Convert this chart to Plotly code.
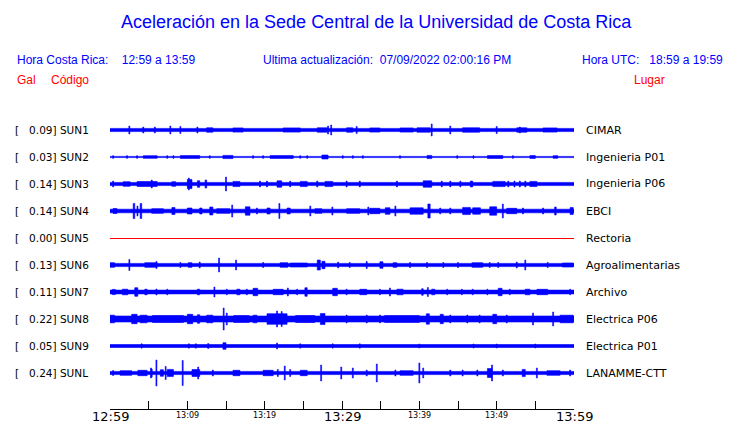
import plotly.graph_objects as go

# ---------------- data ----------------
TICK_MINUTES = list(range(0, 61, 5))
TICK_LABELS = ["12:59", "", "13:09", "", "13:19", "", "13:29", "", "13:39", "", "13:49", "", "13:59"]
MAJOR_LABELS = ["12:59", "13:29", "13:59"]

CODES = ["SUN1", "SUN2", "SUN3", "SUN4", "SUN5", "SUN6", "SUN7", "SUN8", "SUN9", "SUNL"]
GAL = [0.09, 0.03, 0.14, 0.14, 0.00, 0.13, 0.11, 0.22, 0.05, 0.24]
PLACES = ["CIMAR", "Ingenieria P01", "Ingenieria P06", "EBCI", "Rectoria",
          "Agroalimentarias", "Archivo", "Electrica P06", "Electrica P01", "LANAMME-CTT"]

# background envelope (half amplitude, relative units) of each record
BASE_AMP = [1.6, 0.6, 1.6, 1.8, 0.0, 1.6, 1.9, 3.0, 1.5, 1.6]

# bursts: (start minute, end minute, half amplitude) read from the records
BURSTS_SUN1 = [(2.5, 2.5, 4), (4.3, 4.3, 3), (5.8, 5.8, 3), (7.8, 7.8, 4), (9.1, 9.1, 3.5),
               (11.3, 11.3, 3), (12.5, 13.3, 2.2), (15.9, 17.2, 2.1), (22.4, 24.6, 2.1),
               (26.8, 28.1, 2.2), (28.2, 28.2, 4), (28.6, 28.6, 5), (30.6, 31.4, 2.2),
               (31.9, 31.9, 3.5), (33.6, 34.9, 2.1), (37.5, 39.2, 2.1), (39.7, 41.4, 2.2),
               (41.6, 41.6, 6), (44.0, 44.0, 4), (45.6, 47.8, 2.2), (50.0, 50.0, 3.5),
               (52.6, 53.9, 2.2), (53.0, 53.0, 3), (56.0, 57.8, 2.1)]
BURSTS_SUN2 = [(0.4, 0.4, 1.3), (2.2, 2.2, 1.3), (3.5, 3.5, 1.3), (4.3, 6.1, 1.3), (7.4, 7.4, 1.3),
               (8.2, 8.2, 1.3), (9.1, 11.6, 1.4), (12.9, 12.9, 1.3), (14.6, 15.9, 1.6),
               (18.5, 18.5, 1.3), (19.8, 19.8, 1.3), (20.7, 23.7, 1.4), (24.6, 24.6, 1.3),
               (25.5, 25.5, 1.3), (27.4, 28.2, 2.0), (30.1, 30.1, 1.3), (31.4, 31.4, 1.3),
               (32.7, 32.7, 1.3), (37.5, 37.5, 1.3), (41.0, 41.6, 1.6), (44.9, 44.9, 1.3),
               (47.0, 47.0, 1.3), (48.8, 50.8, 1.4), (52.1, 52.1, 1.3), (54.3, 55.0, 1.4),
               (57.3, 57.9, 1.3)]
BURSTS_SUN3 = [(0.4, 0.4, 3), (1.7, 2.6, 2.3), (3.5, 6.1, 2.5), (5.4, 5.4, 4), (8.0, 8.5, 2.3),
               (10.0, 10.6, 4.5), (10.2, 10.2, 6), (11.3, 11.6, 3.3), (12.3, 12.5, 4), (15.0, 15.0, 7),
               (15.9, 16.8, 2.6), (19.4, 19.4, 3), (20.3, 20.3, 3), (21.6, 22.2, 3.2), (23.3, 23.3, 3),
               (24.6, 25.5, 2.6), (26.8, 26.8, 3), (27.8, 28.8, 2.6), (30.6, 30.6, 3), (32.3, 32.3, 3),
               (37.1, 37.1, 3), (40.5, 41.6, 3.2), (42.9, 42.9, 3), (44.0, 44.0, 3), (45.3, 45.3, 3),
               (46.6, 46.9, 3), (49.5, 51.1, 2.6), (51.5, 51.5, 3), (52.3, 52.3, 3), (53.0, 53.0, 3),
               (53.7, 53.7, 3), (54.3, 55.2, 2.6)]
BURSTS_SUN4 = [(0.4, 0.9, 2.5), (3.0, 3.2, 7.5), (3.5, 3.6, 5), (3.9, 4.1, 7.5), (5.4, 6.9, 2.3),
               (8.0, 8.4, 3.5), (10.0, 10.6, 3), (11.6, 11.9, 3), (12.9, 13.3, 4), (13.8, 15.5, 2.3),
               (15.8, 15.8, 6), (17.5, 18.1, 4.2), (19.0, 19.0, 3), (20.3, 20.7, 3), (21.9, 21.9, 7.5),
               (22.9, 23.3, 3), (25.9, 25.9, 5), (26.5, 27.4, 2.3), (28.7, 28.8, 4), (30.6, 32.3, 2.3),
               (33.4, 33.4, 4), (33.6, 34.9, 2.7), (35.6, 36.2, 3.3), (36.9, 36.9, 5), (38.8, 40.5, 3.2),
               (41.1, 41.4, 7), (42.7, 42.7, 3), (44.0, 44.0, 3), (45.6, 46.6, 3.6), (46.9, 47.9, 3.2),
               (49.1, 50.0, 4.2), (50.8, 50.8, 7), (51.3, 52.6, 2.7), (53.4, 53.4, 3), (56.0, 56.0, 3),
               (57.5, 57.7, 4), (59.5, 59.9, 3.5)]
BURSTS_SUN5 = []
BURSTS_SUN6 = [(0.0, 0.6, 2.3), (2.5, 2.5, 5.5), (4.5, 6.1, 2.3), (6.0, 6.0, 3.5), (9.1, 9.1, 2.5),
               (10.1, 10.6, 2.3), (11.6, 11.6, 3), (14.1, 14.1, 7), (16.3, 16.3, 5), (19.8, 19.8, 2.5),
               (22.0, 23.0, 2.3), (23.3, 25.5, 2.0), (26.8, 27.2, 5.0), (27.4, 27.8, 3.7), (29.5, 29.5, 3),
               (31.0, 31.0, 2.5), (33.2, 33.2, 3.5), (34.9, 35.3, 3.3), (36.6, 37.1, 2.3),
               (38.8, 38.8, 2.5), (41.0, 41.0, 2.5), (43.1, 43.1, 2.5), (45.0, 45.0, 2.5),
               (46.8, 48.2, 2.3), (49.1, 49.1, 2.5), (50.2, 50.2, 2.5), (52.6, 52.6, 3),
               (53.7, 53.7, 5), (56.6, 56.6, 2.5), (58.5, 59.9, 2.0)]
BURSTS_SUN7 = [(0.3, 0.7, 2.6), (1.6, 2.3, 2.8), (3.2, 3.6, 4.3), (4.5, 4.8, 2.8), (6.0, 6.0, 3),
               (7.4, 7.4, 2.8), (11.3, 11.6, 2.8), (13.5, 13.5, 5), (15.1, 15.1, 2.8), (16.4, 16.8, 2.8),
               (17.7, 17.7, 2.8), (18.5, 19.1, 3.7), (21.1, 22.4, 2.7), (23.0, 23.0, 4), (24.2, 24.2, 2.8),
               (25.2, 25.5, 4.3), (28.8, 29.4, 3.7), (30.6, 30.6, 2.8), (32.3, 33.2, 2.7), (34.9, 34.9, 2.8),
               (36.2, 36.2, 4), (37.1, 37.9, 2.8), (40.3, 40.5, 3.3), (41.1, 41.1, 4.5), (41.6, 42.0, 2.8),
               (43.6, 43.6, 2.8), (45.5, 45.5, 2.8), (46.9, 46.9, 2.8), (48.8, 48.8, 2.8),
               (50.2, 50.7, 3.7), (51.7, 51.7, 2.8), (53.7, 54.3, 2.8), (55.2, 56.6, 2.7), (59.5, 59.5, 2.8)]
BURSTS_SUN8 = [(0.0, 0.6, 3.8), (2.8, 3.5, 4.7), (3.9, 4.8, 3.8), (5.5, 9.5, 3.5), (10.0, 10.7, 4.7),
               (11.3, 11.6, 4.3), (12.5, 13.3, 3.8), (14.7, 14.7, 11), (15.1, 15.1, 6), (16.0, 18.0, 3.4),
               (18.5, 19.0, 3.8), (20.3, 22.9, 5.3), (21.6, 21.6, 8), (22.2, 22.2, 7.5), (24.0, 26.5, 3.5),
               (27.2, 27.8, 5.5), (30.6, 30.6, 4), (33.2, 33.2, 4), (34.9, 34.9, 4), (35.5, 40.0, 3.4),
               (40.9, 41.3, 5.2), (42.7, 43.1, 4.7), (44.0, 44.0, 4), (46.2, 46.2, 4), (47.8, 47.8, 4),
               (49.5, 50.0, 4.7), (51.3, 51.3, 4), (54.7, 54.7, 6), (57.3, 57.3, 7), (58.2, 59.9, 3.8)]
BURSTS_SUN9 = [(4.1, 4.1, 2.2), (10.2, 10.2, 2.2), (11.1, 11.1, 2.2), (12.7, 12.7, 2.5),
               (14.6, 15.0, 3.3), (21.6, 21.6, 3), (24.6, 24.6, 2.2), (28.8, 28.8, 2.2),
               (32.3, 32.3, 2.2), (40.0, 40.0, 2.0), (47.0, 47.0, 2.0), (50.0, 50.0, 2.0),
               (55.0, 55.0, 2.0)]
BURSTS_SUNL = [(0.4, 0.4, 2.5), (1.3, 2.8, 2.3), (3.6, 4.8, 2.7), (5.3, 5.3, 5), (5.4, 5.4, 4),
               (6.0, 6.0, 13), (6.5, 6.9, 3.3), (7.2, 7.2, 6.5), (7.4, 8.2, 3.6), (9.4, 9.4, 12.5),
               (10.6, 11.6, 3.5), (11.4, 11.4, 6), (13.3, 13.3, 3), (15.9, 16.8, 2.7), (19.8, 21.1, 2.7),
               (21.7, 21.7, 3.5), (22.6, 22.6, 7), (23.3, 23.3, 3.5), (24.6, 25.5, 2.7), (27.3, 27.3, 8),
               (29.9, 29.9, 6), (31.4, 31.4, 5), (33.2, 33.2, 3), (34.5, 34.5, 9), (36.9, 36.9, 3),
               (37.5, 39.2, 2.3), (40.0, 40.0, 10), (40.5, 40.5, 5), (44.0, 44.0, 3), (45.6, 45.6, 3),
               (47.5, 47.5, 3), (48.8, 49.4, 4.5), (49.4, 49.4, 8), (50.8, 50.8, 3), (53.3, 53.7, 3.6),
               (55.2, 55.2, 5), (56.5, 58.2, 2.3), (59.5, 59.5, 3)]

BURSTS = [BURSTS_SUN1, BURSTS_SUN2, BURSTS_SUN3, BURSTS_SUN4, BURSTS_SUN5,
          BURSTS_SUN6, BURSTS_SUN7, BURSTS_SUN8, BURSTS_SUN9, BURSTS_SUNL]

# ---------------- layout constants ----------------
W, H = 740, 423
L, R, T, B = 110, 166, 0, 14
PW, PH = W - L - R, H - T - B
FIRST_ROW = 130      # pixel row of first record
ROW_GAP = 27
BLUE = "#0000ff"
RED = "#ff0000"
SANS = "Liberation Sans, Arial, sans-serif"
DJV = "DejaVu Sans, sans-serif"
SPIKE_HALF = 0.06


def px(x):
    return (x - L) / PW


def py(y):
    return (H - B - y) / PH


fig = go.Figure()

for i, code in enumerate(CODES):
    yc = FIRST_ROW + ROW_GAP * i
    if BASE_AMP[i] == 0:
        fig.add_trace(go.Scatter(x=[0, 60], y=[yc + 0.5, yc + 0.5], mode="lines",
                                 line=dict(color=RED, width=1.2), hoverinfo="skip",
                                 showlegend=False))
        continue
    xs, ys = [], []
    segs = [(0, 60, BASE_AMP[i])] + BURSTS[i]
    for t0, t1, a in segs:
        if t1 - t0 < 2 * SPIKE_HALF:
            m = (t0 + t1) / 2
            t0, t1 = m - SPIKE_HALF, m + SPIKE_HALF
        t0 = max(0, t0)
        t1 = min(60, t1)
        xs += [t0, t1, t1, t0, t0, None]
        ys += [yc - a, yc - a, yc + a, yc + a, yc - a, None]
    fig.add_trace(go.Scatter(x=xs, y=ys, mode="lines", fill="toself",
                             fillcolor=BLUE, line=dict(color=BLUE, width=0.6),
                             hoverinfo="skip", showlegend=False))

annotations = []


def note(x, y, text, color, size, family, anchor="left"):
    annotations.append(dict(x=px(x), y=py(y), xref="paper", yref="paper", text=text,
                            showarrow=False, xanchor=anchor, yanchor="middle",
                            font=dict(color=color, size=size, family=family)))


note(376, 22, "Aceleración en la Sede Central de la Universidad de Costa Rica", BLUE, 18, SANS, "center")
note(15, 60, "Hora Costa Rica:\u00a0\u00a0\u00a0 12:59 a 13:59", BLUE, 12, SANS)
note(261, 60, "Ultima actualización:\u00a0 07/09/2022 02:00:16 PM", BLUE, 12, SANS)
note(580, 60, "Hora UTC:\u00a0\u00a0 18:59 a 19:59", BLUE, 12, SANS)
note(15, 80, "Gal", RED, 12, SANS)
note(49, 80, "Código", RED, 12, SANS)
note(632, 80, "Lugar", RED, 12, SANS)

for i, code in enumerate(CODES):
    yc = FIRST_ROW + ROW_GAP * i
    note(13, yc, "[\u00a0\u00a0\u00a0%.2f] %s" % (GAL[i], code), "black", 10.5, DJV)
    note(584, yc, PLACES[i], "black", 11, DJV)

# time labels placed on the x axis scale
for t, lab in zip(TICK_MINUTES, TICK_LABELS):
    if not lab:
        continue
    major = lab in MAJOR_LABELS
    annotations.append(dict(x=t, y=py(416.5 if major else 415.3), xref="x", yref="paper",
                            text=lab, showarrow=False, xanchor="center", yanchor="middle",
                            font=dict(color="black", size=13 if major else 8, family=DJV)))

fig.update_layout(
    width=W, height=H,
    margin=dict(l=L, r=R, t=T, b=B, autoexpand=False),
    paper_bgcolor="white", plot_bgcolor="white",
    annotations=annotations,
    xaxis=dict(range=[0, 60], tickvals=TICK_MINUTES, showticklabels=False,
               ticks="inside", ticklen=8, tickwidth=1, tickcolor="black",
               showline=True, linecolor="black", linewidth=1, showgrid=False,
               zeroline=False, fixedrange=True, automargin=False),
    yaxis=dict(range=[H - B, T], visible=False, fixedrange=True, automargin=False),
)

fig.write_html("out.html", config={"displayModeBar": False},
               post_script="document.body.style.margin='0';document.body.style.overflow='hidden';")
